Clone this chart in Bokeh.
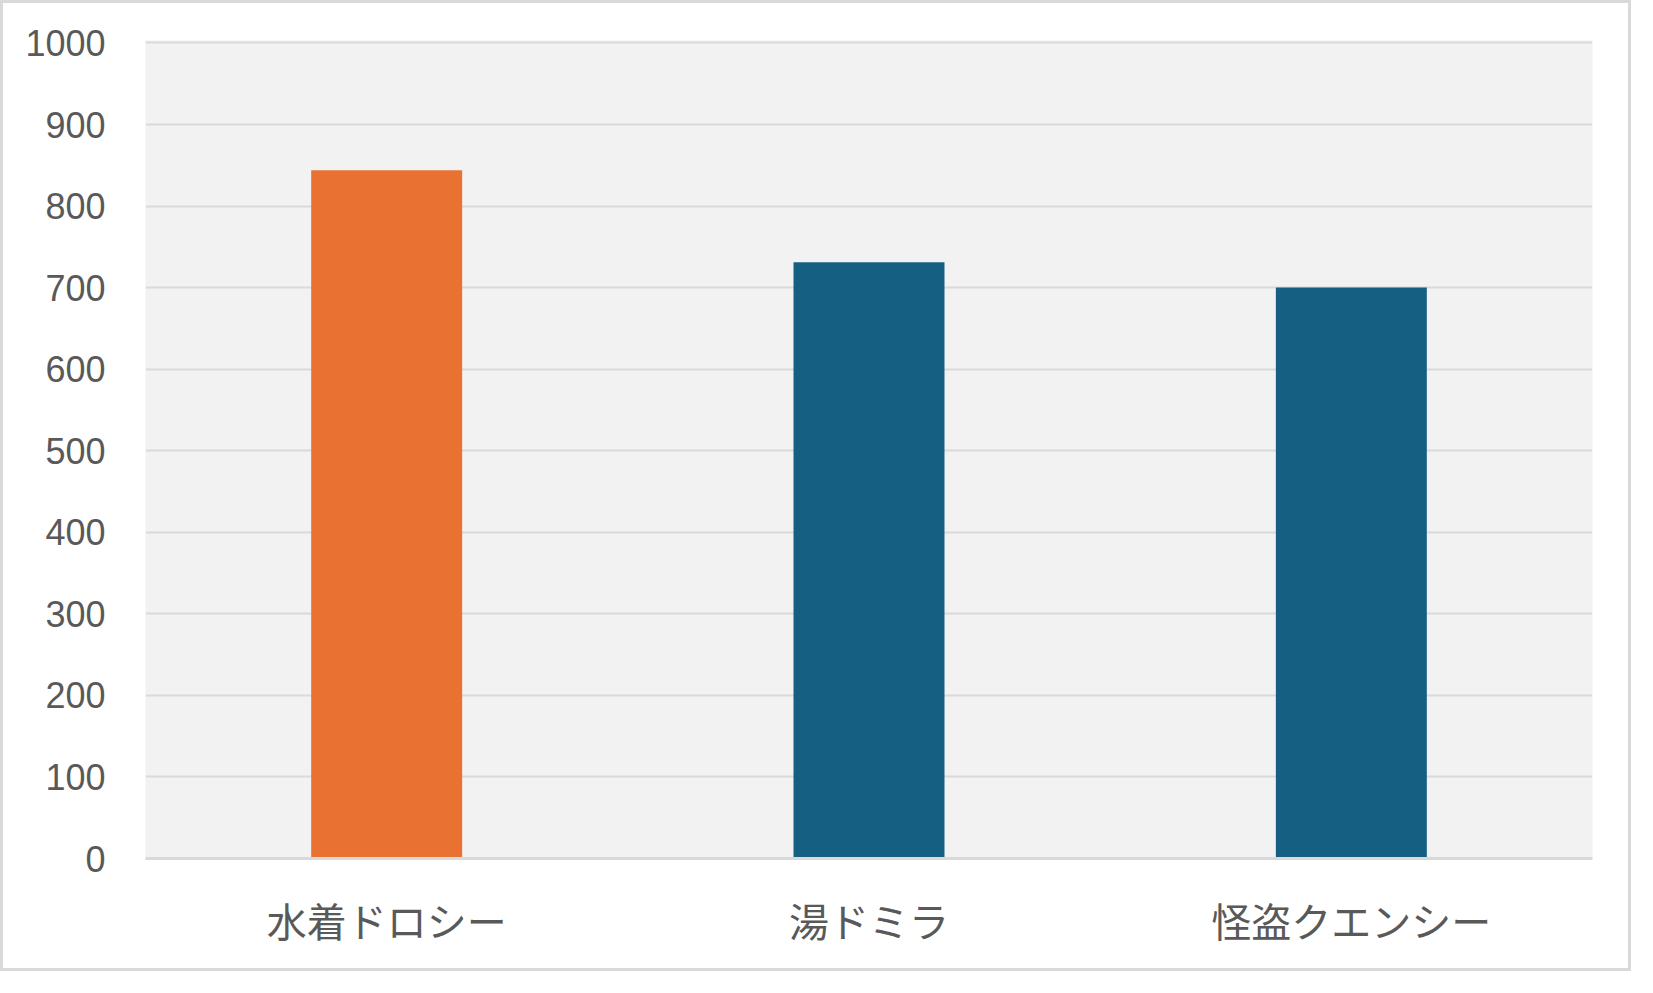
from bokeh.plotting import figure
from bokeh.models import ColumnDataSource, FixedTicker, Range1d
from bokeh.embed import file_html
from bokeh.resources import INLINE

categories = ["水着ドロシー", "湯ドミラ", "怪盗クエンシー"]
values = [844, 731, 700]
colors = ["#E97132", "#156082", "#156082"]
y_ticks = [0, 100, 200, 300, 400, 500, 600, 700, 800, 900, 1000]

src = ColumnDataSource(dict(cat=categories, val=values, color=colors))

p = figure(x_range=categories, y_range=Range1d(0, 1003),
           width=1631, height=971, output_backend="svg", toolbar_location=None,
           min_border_left=142, min_border_right=42, min_border_top=37, min_border_bottom=116)

p.vbar(x="cat", top="val", width=0.313, color="color", source=src, line_color=None)

p.background_fill_color = "#F2F2F2"
p.border_fill_color = "white"
p.outline_line_color = None

p.xgrid.grid_line_color = None
p.ygrid.grid_line_color = "#D9D9D9"
p.ygrid.grid_line_width = 2
p.yaxis.ticker = FixedTicker(ticks=y_ticks)

p.yaxis.axis_line_color = None
p.yaxis.major_tick_line_color = None
p.yaxis.minor_tick_line_color = None
p.yaxis.major_tick_out = 0
p.yaxis.major_label_standoff = 40
p.yaxis.major_label_text_font = "Liberation Sans"
p.yaxis.major_label_text_font_size = "36px"
p.yaxis.major_label_text_color = "#595959"

p.xaxis.axis_line_color = "#D9D9D9"
p.xaxis.axis_line_width = 3
p.xaxis.major_tick_line_color = None
p.xaxis.minor_tick_line_color = None
p.xaxis.major_tick_out = 0
p.xaxis.major_label_standoff = 32
p.xaxis.major_label_text_font = "Noto Sans CJK JP"
p.xaxis.major_label_text_font_size = "40px"
p.xaxis.major_label_text_color = "#595959"

p.styles = {"border": "3px solid #D9D9D9"}

open("out.html", "w").write(file_html(p, INLINE))
